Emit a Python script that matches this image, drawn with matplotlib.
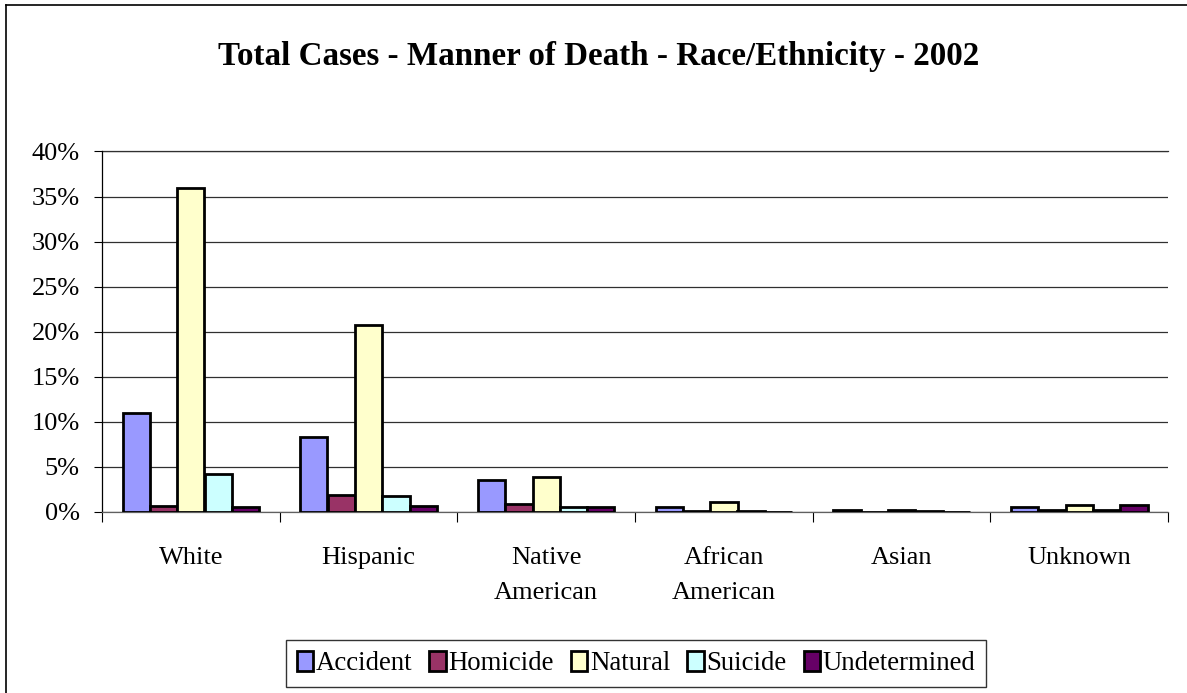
import matplotlib
matplotlib.use("Agg")

import matplotlib.pyplot as plt
from matplotlib.lines import Line2D
from matplotlib.ticker import FuncFormatter
import numpy as np


# Categories and series (percent of total cases)
groups = ["White", "Hispanic", "Native\nAmerican", "African\nAmerican", "Asian", "Unknown"]
manners = ["Accident", "Homicide", "Natural", "Suicide", "Undetermined"]

accident = [11.0, 8.3, 3.6, 0.5, 0.2, 0.6]
homicide = [0.7, 1.85, 0.85, 0.1, 0.0, 0.2]
natural = [35.9, 20.7, 3.85, 1.1, 0.2, 0.8]
suicide = [4.2, 1.75, 0.55, 0.15, 0.1, 0.2]
undetermined = [0.5, 0.65, 0.5, 0.0, 0.0, 0.75]

series = [accident, homicide, natural, suicide, undetermined]
colors = ["#9999FF", "#993366", "#FFFFCC", "#CCFFFF", "#660066"]


plt.rcParams["font.family"] = ["Liberation Serif", "DejaVu Serif"]

fig = plt.figure(figsize=(11.87, 6.93), dpi=100)
ax = fig.add_axes([102 / 1187, 1 - 512 / 693, (1168 - 102) / 1187, (512 - 151.5) / 693])

n = len(manners)
bar_w = 1 / (n + 1.5)
x = np.arange(len(groups)) + 0.5

for i, (vals, col, name) in enumerate(zip(series, colors, manners)):
    offset = (i - (n - 1) / 2) * bar_w
    ax.bar(
        x + offset, vals, bar_w,
        color=col, edgecolor="black", linewidth=2.0,
        label=name, zorder=3
    )

ax.set_xlim(0, len(groups))
ax.set_ylim(0, 40)

# y axis
ax.set_yticks(np.arange(0, 41, 5))
ax.yaxis.set_major_formatter(FuncFormatter(lambda v, p: f"{v:.0f}%"))
ax.tick_params(axis="y", length=6, width=0.8, pad=10, labelsize=19)
ax.yaxis.grid(True, color="#303030", linewidth=0.9, zorder=0)
ax.axhline(40, color="#303030", linewidth=0.9, clip_on=False, zorder=0)

# x axis: ticks between groups, labels at group centres
ax.set_xticks(np.arange(len(groups) + 1))
ax.set_xticklabels([])
ax.tick_params(axis="x", which="major", length=7, width=0.8)
ax.set_xticks(x, minor=True)
ax.set_xticklabels(groups, minor=True, fontsize=19, linespacing=1.78)
ax.tick_params(axis="x", which="minor", length=0, pad=25)

for s in ["top", "right"]:
    ax.spines[s].set_visible(False)
ax.spines["left"].set_linewidth(0.9)
ax.spines["bottom"].set_color("#606060")
ax.spines["bottom"].set_linewidth(0.9)

fig.text(
    599 / 1187, 1 - 57 / 693,
    "Total Cases - Manner of Death - Race/Ethnicity - 2002",
    ha="center", va="center", fontsize=23.8, fontweight="bold"
)

leg = fig.legend(
    loc="center", bbox_to_anchor=(636 / 1187, 1 - 663.5 / 693),
    ncol=5, fontsize=19.3, frameon=True, fancybox=False,
    handlelength=0.6, handleheight=0.75, handletextpad=0.1,
    columnspacing=0.65, borderpad=0.4, borderaxespad=0
)
leg.get_frame().set_edgecolor("black")
leg.get_frame().set_linewidth(1.0)

# chart border (left and top edges visible)
fig.add_artist(Line2D([6 / 1187, 6 / 1187], [0, 1 - 5 / 693], color="black", lw=1.2, transform=fig.transFigure))
fig.add_artist(Line2D([6 / 1187, 1], [1 - 5 / 693, 1 - 5 / 693], color="black", lw=1.2, transform=fig.transFigure))

plt.savefig("out.png", dpi=100)
